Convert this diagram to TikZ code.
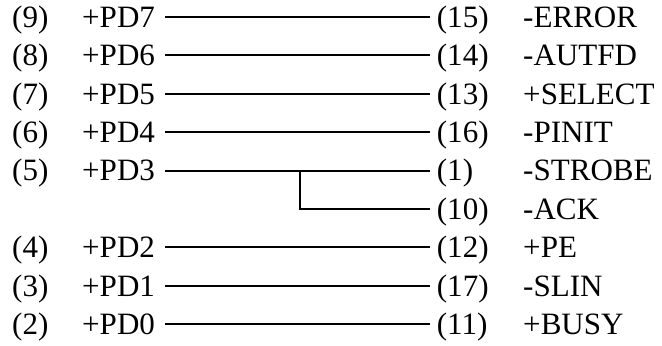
\documentclass[tikz,border=0pt]{standalone}
\usepackage{fontspec}
\setmainfont{Liberation Serif}
\tikzset{pin/.style={anchor=west,inner sep=0pt,text height=0.62cm,text depth=0pt},
  wire/.style={line width=1.6pt}}

\begin{document}
\begin{tikzpicture}[scale=1,font=\fontsize{26.5pt}{31pt}\selectfont]
\useasboundingbox (0,0) rectangle (19.86,-10.35);
% host side
\foreach \i/\n/\s in {0/9/PD7,1/8/PD6,2/7/PD5,3/6/PD4,4/5/PD3,6/4/PD2,7/3/PD1,8/2/PD0} {
  \node[pin] (ln\i) at (0.36,-0.51-1.152*\i) {(\n)};
  \node[pin,text width=2.49cm] (ls\i) at (2.46,-0.51-1.152*\i) {+\s};
}
% printer side
\foreach \i/\n/\s in {0/15/-ERROR,1/14/-AUTFD,2/13/+SELECT,3/16/-PINIT,4/1/-STROBE,5/10/-ACK,6/12/+PE,7/17/-SLIN,8/11/+BUSY} {
  \node[pin,inner xsep=0.2cm] (rn\i) at (12.9,-0.51-1.152*\i) {(\n)};
  \node[pin] (rs\i) at (15.69,-0.51-1.152*\i) {\s};
}
\foreach \i in {0,1,2,3,4,6,7,8}
  \draw [wire] (ls\i.east) -- (rn\i.west);
\coordinate (tap) at (9,-0.51-1.152*4);
\draw [wire] (tap) |- (rn5.west);
\end{tikzpicture}
\end{document}
